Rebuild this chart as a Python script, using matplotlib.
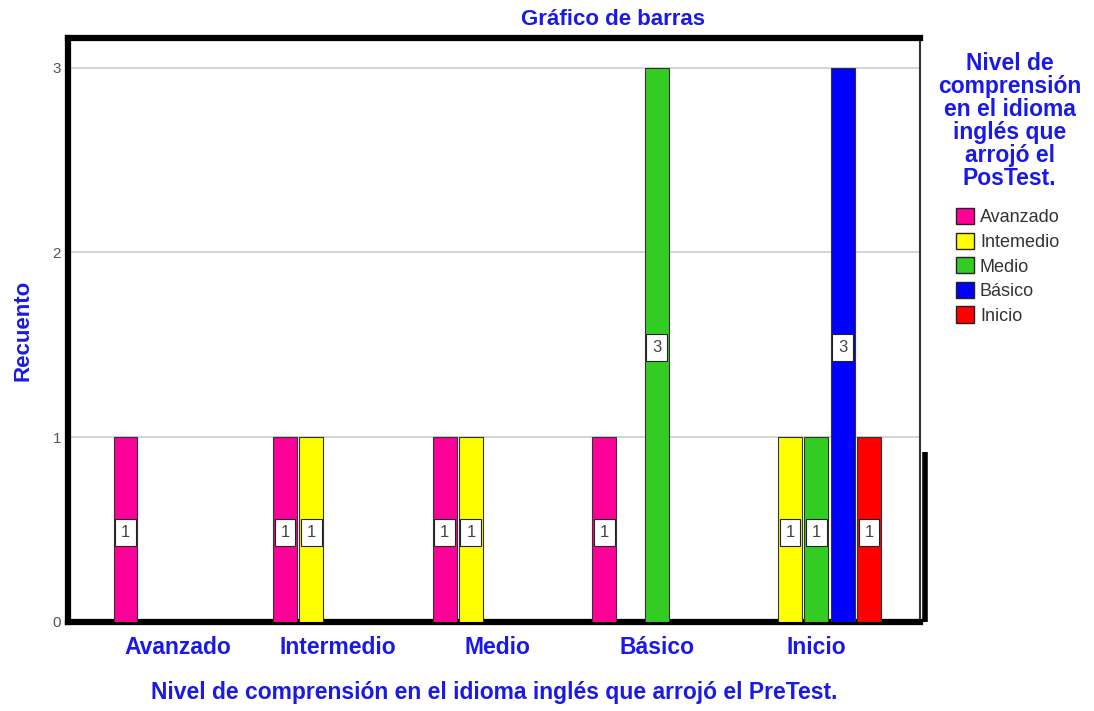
import matplotlib
matplotlib.use("Agg")
import matplotlib.pyplot as plt
import matplotlib.transforms as mtransforms
from matplotlib.patches import Patch
import numpy as np

# PreTest levels (x groups) and PosTest levels (series)
pretest = ["Avanzado", "Intermedio", "Medio", "Básico", "Inicio"]
postest = ["Avanzado", "Intemedio", "Medio", "Básico", "Inicio"]

# counts per PosTest level, one value per PreTest group
avanzado = [1, 1, 1, 1, 0]
intemedio = [0, 1, 1, 0, 1]
medio = [0, 0, 0, 3, 1]
basico = [0, 0, 0, 0, 3]
inicio = [0, 0, 0, 0, 1]

series = [avanzado, intemedio, medio, basico, inicio]
colors = ["#ff0099", "#ffff00", "#33cc22", "#0000ff", "#ff0000"]

text_blue = "#1a1ae6"
plt.rcParams["font.family"] = ["Liberation Sans", "DejaVu Sans"]

fig = plt.figure(figsize=(10.94, 7.11), dpi=100)
ax = fig.add_axes([0.0622, 0.1252, 0.7788, 0.8214])

x = np.arange(len(pretest))
slot = 0.165
bar_w = 0.15
for i, (vals, col) in enumerate(zip(series, colors)):
    offset = (i - 2) * slot
    for xi, v in zip(x, vals):
        if v == 0:
            continue
        ax.bar(xi + offset, v, width=bar_w, color=col, edgecolor="#333333",
               linewidth=0.8, zorder=3)
        ax.text(xi + offset, v / 2 - 0.015, str(v), ha="center", va="center",
                fontsize=12, color="#444444", zorder=4,
                bbox=dict(boxstyle="square,pad=0.35", fc="white", ec="#222222", lw=0.8))

ax.set_xlim(-0.69, 4.65)
ax.set_ylim(0, 3.16)
ax.set_yticks([0, 1, 2, 3])
ax.yaxis.grid(True, color="#cccccc", linewidth=1.2, zorder=0)
ax.set_axisbelow(True)
ax.tick_params(axis="y", length=0, pad=5, labelsize=11, labelcolor="#555555")
ax.tick_params(axis="x", length=0, pad=10)
ax.set_xticks(x)
ax.set_xticklabels(pretest, fontsize=16.5, fontweight="bold", color=text_blue)

for side in ["left", "top", "bottom"]:
    ax.spines[side].set_linewidth(4.5)
    ax.spines[side].set_color("black")
ax.spines["right"].set_linewidth(1.5)
ax.spines["right"].set_color("#333333")

# shadow edge on the lower right of the frame
trans = mtransforms.blended_transform_factory(ax.transAxes, ax.transData)
ax.plot([1.006, 1.006], [0, 0.92], color="black", linewidth=4,
        transform=trans, clip_on=False, solid_capstyle="butt")

ax.set_ylabel("Recuento", fontsize=16, fontweight="bold", color=text_blue, labelpad=14)
ax.set_xlabel("Nivel de comprensión en el idioma inglés que arrojó el PreTest.",
              fontsize=16.5, fontweight="bold", color=text_blue, labelpad=16)

fig.text(0.56, 0.972, "Gráfico de barras", ha="center", va="center",
         fontsize=16, fontweight="bold", color=text_blue)

fig.text(0.923, 0.83, "Nivel de\ncomprensión\nen el idioma\ninglés que\narrojó el\nPosTest.",
         ha="center", va="center", fontsize=16.5, fontweight="bold", color=text_blue,
         linespacing=1.0)

handles = [Patch(facecolor=c, edgecolor="#222222", linewidth=1) for c in colors]
fig.legend(handles, postest, loc="upper left", bbox_to_anchor=(0.866, 0.72),
           frameon=False, fontsize=13, handlelength=1.0, handleheight=1.0,
           handletextpad=0.3, labelspacing=0.35, borderpad=0, labelcolor="#333333")

fig.savefig("out.png", dpi=100)
